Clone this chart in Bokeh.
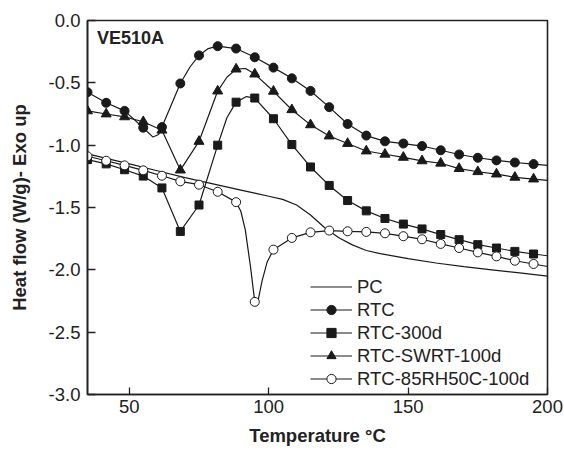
from bokeh.plotting import figure
from bokeh.models import FixedTicker, PrintfTickFormatter, Legend, LegendItem, Label
from bokeh.embed import file_html
from bokeh.resources import INLINE

# ---- data ----
marker_t = [35.0, 41.7, 48.3, 55.0, 61.7, 68.3, 75.0, 81.7, 88.3, 95.0, 101.7, 108.3,
            115.0, 121.7, 128.3, 135.0, 141.7, 148.3, 155.0, 161.7, 168.3, 175.0,
            181.7, 188.3, 195.0]

rtc_hf = [-0.575, -0.66, -0.725, -0.86, -0.855, -0.505, -0.28, -0.206, -0.225, -0.295,
          -0.378, -0.464, -0.565, -0.695, -0.83, -0.923, -0.969, -0.987, -1.007,
          -1.041, -1.075, -1.101, -1.122, -1.139, -1.152]
rtc_extra_t = [58.5, 60.5, 71.7, 78.3, 200.0]
rtc_extra_hf = [-0.935, -0.915, -0.375, -0.225, -1.162]

rtc300_hf = [-1.116, -1.15, -1.197, -1.248, -1.343, -1.692, -1.48, -1.0, -0.655, -0.622,
             -0.788, -0.995, -1.175, -1.323, -1.444, -1.527, -1.588, -1.633, -1.672,
             -1.717, -1.758, -1.798, -1.825, -1.852, -1.873]
rtc300_extra_t = [85.0, 92.0, 200.0]
rtc300_extra_hf = [-0.78, -0.61, -1.887]

swrt_hf = [-0.725, -0.75, -0.773, -0.812, -0.88, -1.2, -0.97, -0.566, -0.39, -0.43,
           -0.568, -0.716, -0.837, -0.927, -0.987, -1.047, -1.073, -1.098, -1.126,
           -1.145, -1.188, -1.213, -1.232, -1.258, -1.272]
swrt_extra_t = [85.0, 91.7, 200.0]
swrt_extra_hf = [-0.455, -0.385, -1.283]

rh_hf = [-1.089, -1.125, -1.162, -1.202, -1.245, -1.29, -1.317, -1.374, -1.457, -2.257,
         -1.838, -1.744, -1.699, -1.685, -1.691, -1.696, -1.707, -1.73, -1.755,
         -1.792, -1.825, -1.86, -1.892, -1.927, -1.953]
rh_extra_t = [90.0, 91.6, 93.5, 95.8, 97.6, 99.4, 200.0]
rh_extra_hf = [-1.53, -1.68, -1.98, -2.29, -2.09, -1.94, -1.973]

pc_t = [35, 50, 60, 70, 80, 90, 95, 100, 105, 110, 115, 120, 125, 130, 135, 140, 145,
        150, 160, 170, 180, 190, 200]
pc_hf = [-1.07, -1.15, -1.205, -1.26, -1.31, -1.36, -1.385, -1.41, -1.435, -1.48, -1.56,
         -1.66, -1.74, -1.80, -1.845, -1.87, -1.89, -1.91, -1.945, -1.975, -2.0, -2.025,
         -2.05]

x_ticks = [50, 100, 150, 200]
y_ticks = [0.0, -0.5, -1.0, -1.5, -2.0, -2.5, -3.0]

FONT = "Liberation Sans"


def curve(mt, mh, et, eh):
    pts = sorted(list(zip(mt, mh)) + list(zip(et, eh)))
    return [a for a, _ in pts], [b for _, b in pts]


p = figure(width=564, height=451, frame_width=460, frame_height=374,
           x_range=(35, 200), y_range=(-3.0, 0.0),
           output_backend="svg", toolbar_location=None,
           min_border_left=87, min_border_right=17, min_border_top=20, min_border_bottom=57)

p.xgrid.visible = False
p.ygrid.visible = False
p.outline_line_color = "#222222"
p.outline_line_width = 1.6

for ax in (p.xaxis[0], p.yaxis[0]):
    ax.axis_line_color = "#222222"
    ax.axis_line_width = 1.6
    ax.major_tick_line_color = "#222222"
    ax.major_tick_line_width = 1.3
    ax.major_tick_out = 0
    ax.minor_tick_line_color = None
    ax.major_label_text_font = FONT
    ax.major_label_text_font_size = "18.5px"
    ax.major_label_text_color = "#222222"
    ax.axis_label_text_font = FONT
    ax.axis_label_text_font_size = "18.5px"
    ax.axis_label_text_font_style = "bold"
    ax.axis_label_text_color = "#222222"

p.xaxis.ticker = FixedTicker(ticks=x_ticks)
p.yaxis.ticker = FixedTicker(ticks=y_ticks)
p.yaxis.formatter = PrintfTickFormatter(format="%.1f")
p.xaxis.major_tick_in = 7
p.yaxis.major_tick_in = 8
p.xaxis.major_label_standoff = 5
p.yaxis.major_label_standoff = 7
p.xaxis.axis_label = "Temperature \u00b0C"
p.yaxis.axis_label = "Heat flow (W/g)- Exo up"
p.xaxis.axis_label_standoff = 9
p.yaxis.axis_label_standoff = 16

LC = "#1a1a1a"
LW = 1.2

pc_r = p.line(pc_t, pc_hf, line_color=LC, line_width=LW)

items = [LegendItem(label="PC", renderers=[pc_r])]

series = [
    ("RTC", rtc_hf, rtc_extra_t, rtc_extra_hf, "circle", LC, 9),
    ("RTC-300d", rtc300_hf, rtc300_extra_t, rtc300_extra_hf, "square", LC, 8),
    ("RTC-SWRT-100d", swrt_hf, swrt_extra_t, swrt_extra_hf, "triangle", LC, 10),
    ("RTC-85RH50C-100d", rh_hf, rh_extra_t, rh_extra_hf, "circle", "white", 9),
]
for name, mh, et, eh, mk, fill, sz in series:
    xs, ys = curve(marker_t, mh, et, eh)
    lr = p.line(xs, ys, line_color=LC, line_width=LW)
    sr = p.scatter(marker_t, mh, marker=mk, size=sz, fill_color=fill,
                   line_color=LC, line_width=1.0)
    items.append(LegendItem(label=name, renderers=[lr, sr]))

legend = Legend(items=items, location=(223, 4), orientation="vertical",
                glyph_width=42, glyph_height=23, label_height=23, spacing=0,
                padding=0, margin=0, label_standoff=5,
                label_text_font=FONT, label_text_font_size="18.5px",
                label_text_color="#222222",
                border_line_color=None, background_fill_alpha=0)
p.add_layout(legend, "center")

p.add_layout(Label(x=38.4, y=-0.06, text="VE510A", text_font=FONT,
                   text_font_size="18px", text_font_style="bold",
                   text_baseline="top", text_color="#222222"))

open("out.html", "w").write(file_html(p, INLINE))
